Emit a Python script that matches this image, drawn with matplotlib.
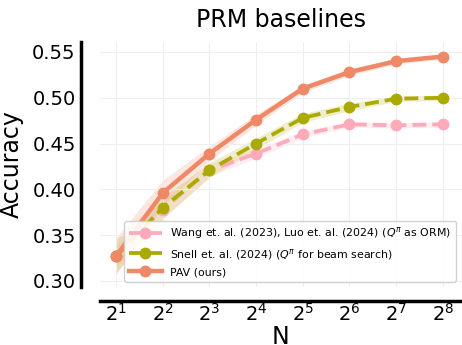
import matplotlib
matplotlib.use("Agg")
import matplotlib.pyplot as plt
import numpy as np

# data
log_n = [1, 2, 3, 4, 5, 6, 7, 8]
tick_labels = [r"$2^{%d}$" % k for k in log_n]

wang_acc = [0.327, 0.378, 0.421, 0.439, 0.460, 0.471, 0.470, 0.471]
wang_err = [0.012, 0.010, 0.007, 0.005, 0.004, 0.003, 0.003, 0.003]

snell_acc = [0.327, 0.380, 0.421, 0.450, 0.478, 0.490, 0.499, 0.500]
snell_err = [0.018, 0.012, 0.008, 0.006, 0.005, 0.004, 0.003, 0.003]

pav_acc = [0.327, 0.396, 0.439, 0.476, 0.510, 0.528, 0.540, 0.545]
pav_err = [0.020, 0.014, 0.008, 0.006, 0.004, 0.004, 0.003, 0.003]

c_wang = "#FFAABB"
c_snell = "#AAAA00"
c_pav = "#EE8866"

fig = plt.figure(figsize=(4.62, 3.45), dpi=100)
ax = fig.add_axes([100 / 462, 58 / 345, 362 / 462, 245 / 345])

x = np.array(log_n)
for acc, err, col in [(wang_acc, wang_err, c_wang), (snell_acc, snell_err, c_snell), (pav_acc, pav_err, c_pav)]:
    acc = np.array(acc)
    err = np.array(err)
    ax.fill_between(x, acc - err, acc + err, color=col, alpha=0.2, lw=0)

ax.plot(x, wang_acc, "--o", color=c_wang, lw=2.7, ms=7.5,
        label=r"Wang et. al. (2023), Luo et. al. (2024) ($Q^\pi$ as ORM)")
ax.plot(x, snell_acc, "--o", color=c_snell, lw=2.7, ms=7.5,
        label=r"Snell et. al. (2024) ($Q^\pi$ for beam search)")
ax.plot(x, pav_acc, "-o", color=c_pav, lw=3.2, ms=7.5, label="PAV (ours)")

ax.set_xlim(0.657, 8.41)
ax.set_ylim(0.2934, 0.5609)
ax.set_xticks(log_n)
ax.set_xticklabels(tick_labels)
ax.set_yticks([0.30, 0.35, 0.40, 0.45, 0.50, 0.55])
ax.tick_params(length=0, labelsize=14, pad=3.5)
ax.tick_params(axis="x", pad=1.5)
ax.grid(True, color="#EEEEEE", lw=0.8)

for s in ["top", "right"]:
    ax.spines[s].set_visible(False)
ax.spines["left"].set_position(("outward", 14))
ax.spines["bottom"].set_position(("outward", 10))
ax.spines["left"].set_linewidth(2.5)
ax.spines["bottom"].set_linewidth(2.5)

ax.set_title("PRM baselines", fontsize=17, pad=11)
ax.set_ylabel("Accuracy", fontsize=17, labelpad=6)
ax.set_xlabel("N", fontsize=17, labelpad=0)

ax.legend(loc="lower left", bbox_to_anchor=(0.052, 0.0), fontsize=7.9, handlelength=3,
          framealpha=0.9, borderpad=0.4, labelspacing=0.5)

fig.savefig("out.png", dpi=100)
